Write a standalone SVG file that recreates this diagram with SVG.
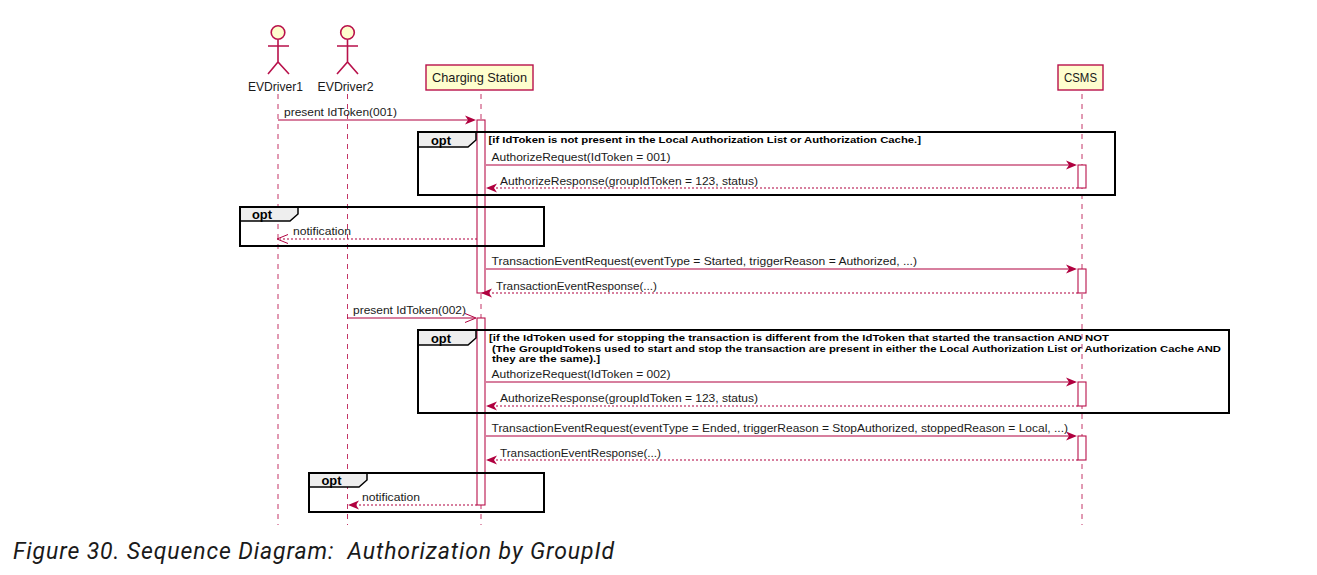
<svg xmlns="http://www.w3.org/2000/svg" width="1317" height="575" viewBox="0 0 1317 575">
<style>
text{font-family:"Liberation Sans",Arial,sans-serif;fill:#1a1a1a}
.m{font-size:11.4px}
.b{font-size:9.8px;font-weight:bold;fill:#000}
.t{font-size:12.5px;font-weight:bold;fill:#000}
.n{font-size:12.2px}
.ll{stroke:#b8114b;stroke-width:1;stroke-dasharray:5 5;fill:none;opacity:.85}
.act{fill:#fff;stroke:#b8114b;stroke-width:1.1}
.box{fill:#fefece;stroke:#b8114b;stroke-width:1.4}
.act-fig{fill:#fefece;stroke:#b8114b;stroke-width:1.6}
.fig{fill:none;stroke:#b8114b;stroke-width:1.6}
.fr{fill:none;stroke:#000;stroke-width:2}
.tab{fill:#eee;stroke:#000;stroke-width:1.5}
.s{stroke:#b0003f;stroke-width:1.1;fill:none}
.d{stroke:#b0003f;stroke-width:1.1;fill:none;stroke-dasharray:2 2}
.h{fill:#b0003f}
.o{fill:none;stroke:#b0003f;stroke-width:1}
</style>
<rect width="1317" height="575" fill="#fff"/>
<g id="lifelines">
<path class="ll" d="M278 94V525"/>
<path class="ll" d="M347.500 94V525"/>
<path class="ll" d="M481 94V525"/>
<path class="ll" d="M1082 94V525"/>
</g>
<g id="evdriver1">
<circle class="act-fig" cx="278" cy="32.500" r="6.800"/>
<path class="fig" d="M278 40V62M268 46H289M268 74L278 62L289 74"/>
<text class="n" x="248" y="91" textLength="55" lengthAdjust="spacingAndGlyphs">EVDriver1</text>
</g>
<g id="evdriver2">
<circle class="act-fig" cx="347.500" cy="32.500" r="6.800"/>
<path class="fig" d="M347.500 40V62M337 46H358M337 74L347.500 62L358 74"/>
<text class="n" x="317.500" y="91" textLength="56" lengthAdjust="spacingAndGlyphs">EVDriver2</text>
</g>
<g id="charging-station">
<rect class="box" x="426" y="65" width="107" height="25"/>
<text class="n" x="432" y="81.500" textLength="95" lengthAdjust="spacingAndGlyphs">Charging Station</text>
</g>
<g id="csms">
<rect class="box" x="1058" y="65" width="45" height="25"/>
<text class="n" x="1064" y="81.500" textLength="33" lengthAdjust="spacingAndGlyphs">CSMS</text>
</g>
<g id="activations">
<rect class="act" x="477" y="120" width="8" height="173"/>
<rect class="act" x="477" y="318" width="8" height="187"/>
<rect class="act" x="1078" y="165" width="8" height="23"/>
<rect class="act" x="1078" y="269" width="8" height="24"/>
<rect class="act" x="1078" y="382" width="8" height="24"/>
<rect class="act" x="1078" y="436" width="8" height="24"/>
</g>
<g id="frame1">
<path class="tab" d="M418 132H476V140L468 147H418Z"/>
<rect class="fr" x="418" y="132" width="697" height="63"/>
<text class="t" x="431" y="144.500" textLength="20" lengthAdjust="spacingAndGlyphs">opt</text>
<text class="b" x="488.500" y="143" textLength="432.500" lengthAdjust="spacingAndGlyphs">[if IdToken is not present in the Local Authorization List or Authorization Cache.]</text>
</g>
<g id="frame2">
<path class="tab" d="M240 207H298V214L290 221H240Z"/>
<rect class="fr" x="240" y="207" width="304" height="39"/>
<text class="t" x="252" y="219" textLength="20" lengthAdjust="spacingAndGlyphs">opt</text>
</g>
<g id="frame3">
<path class="tab" d="M418 330H476V338L468 345H418Z"/>
<rect class="fr" x="418" y="330" width="811" height="83"/>
<text class="t" x="431" y="342.500" textLength="20" lengthAdjust="spacingAndGlyphs">opt</text>
<text class="b" x="489" y="341.200" textLength="620" lengthAdjust="spacingAndGlyphs">[if the IdToken used for stopping the transaction is different from the IdToken that started the transaction AND NOT</text>
<text class="b" x="492" y="351.700" textLength="729" lengthAdjust="spacingAndGlyphs">(The GroupIdTokens used to start and stop the transaction are present in either the Local Authorization List or Authorization Cache AND</text>
<text class="b" x="492" y="362.300" textLength="108" lengthAdjust="spacingAndGlyphs">they are the same).]</text>
</g>
<g id="frame4">
<path class="tab" d="M309 473H367V480L359 487H309Z"/>
<rect class="fr" x="309" y="473" width="235" height="39"/>
<text class="t" x="321.500" y="485" textLength="20" lengthAdjust="spacingAndGlyphs">opt</text>
</g>
<g id="connectors">
<path class="s" d="M278 120H474"/><path class="h" d="M476 120L465 115.500L468 120L465 124.500Z"/>
<path class="s" d="M486 165H1075"/><path class="h" d="M1077 165L1066 160.500L1069 165L1066 169.500Z"/>
<path class="d" d="M1078 188H488"/><path class="h" d="M486 188L497 183.500L494 188L497 192.500Z"/>
<path class="d" d="M477 239H280"/><path class="o" d="M288 234.500L277 239L288 243.500"/>
<path class="s" d="M486 269H1075"/><path class="h" d="M1077 269L1066 264.500L1069 269L1066 273.500Z"/>
<path class="d" d="M1078 293H484"/><path class="h" d="M481 293L492 288.500L489 293L492 297.500Z"/>
<path class="s" d="M347 318H474"/><path class="o" d="M465 313.500L476 318L465 322.500"/>
<path class="s" d="M486 382H1075"/><path class="h" d="M1077 382L1066 377.500L1069 382L1066 386.500Z"/>
<path class="d" d="M1078 406H488"/><path class="h" d="M486 406L497 401.500L494 406L497 410.500Z"/>
<path class="s" d="M486 436H1075"/><path class="h" d="M1077 436L1066 431.500L1069 436L1066 440.500Z"/>
<path class="d" d="M1078 460H488"/><path class="h" d="M486 460L497 455.500L494 460L497 464.500Z"/>
<path class="d" d="M477 505H350"/><path class="h" d="M348 505L359 500.500L356 505L359 509.500Z"/>
</g>
<g id="labels">
<text class="m" x="284" y="116" textLength="113" lengthAdjust="spacingAndGlyphs">present IdToken(001)</text>
<text class="m" x="491.500" y="160.500" textLength="179" lengthAdjust="spacingAndGlyphs">AuthorizeRequest(IdToken = 001)</text>
<text class="m" x="500" y="185" textLength="258" lengthAdjust="spacingAndGlyphs">AuthorizeResponse(groupIdToken = 123, status)</text>
<text class="m" x="293" y="235" textLength="58" lengthAdjust="spacingAndGlyphs">notification</text>
<text class="m" x="491.500" y="265" textLength="425.500" lengthAdjust="spacingAndGlyphs">TransactionEventRequest(eventType = Started, triggerReason = Authorized, ...)</text>
<text class="m" x="496" y="290" textLength="161" lengthAdjust="spacingAndGlyphs">TransactionEventResponse(...)</text>
<text class="m" x="353" y="314" textLength="113" lengthAdjust="spacingAndGlyphs">present IdToken(002)</text>
<text class="m" x="491.500" y="378" textLength="179" lengthAdjust="spacingAndGlyphs">AuthorizeRequest(IdToken = 002)</text>
<text class="m" x="500" y="402" textLength="258" lengthAdjust="spacingAndGlyphs">AuthorizeResponse(groupIdToken = 123, status)</text>
<text class="m" x="491.500" y="432" textLength="576.500" lengthAdjust="spacingAndGlyphs">TransactionEventRequest(eventType = Ended, triggerReason = StopAuthorized, stoppedReason = Local, ...)</text>
<text class="m" x="500" y="457" textLength="161" lengthAdjust="spacingAndGlyphs">TransactionEventResponse(...)</text>
<text class="m" x="362" y="501" textLength="58" lengthAdjust="spacingAndGlyphs">notification</text>
</g>
<text id="caption" x="13" y="558.500" textLength="601" lengthAdjust="spacing" style="font-family:Roboto,sans-serif;font-style:italic;font-size:23px;fill:#1a1a1a;white-space:pre">Figure 30. Sequence Diagram:  Authorization by GroupId</text>
</svg>
